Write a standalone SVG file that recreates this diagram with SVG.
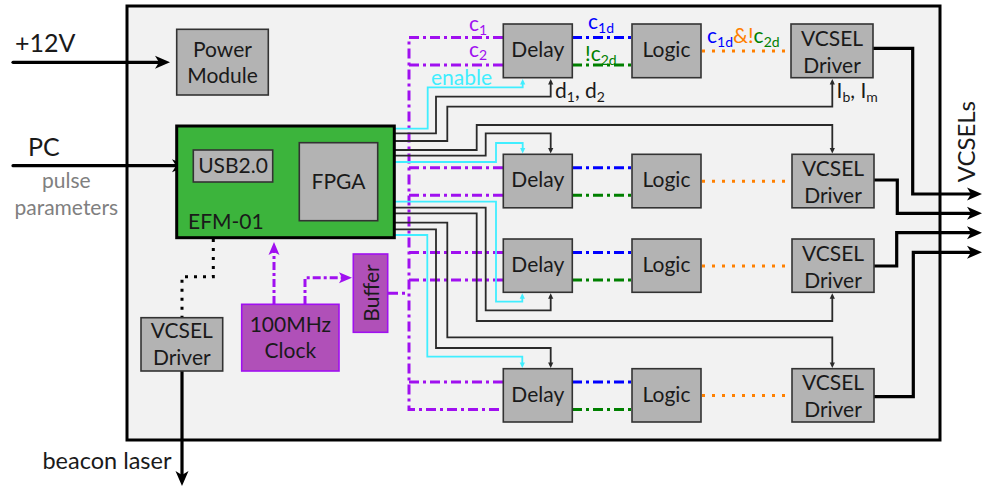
<svg xmlns="http://www.w3.org/2000/svg" width="985" height="486" viewBox="0 0 985 486">
<style>
text{font-family:"Lato","Liberation Sans",sans-serif;font-size:21px;fill:#1a1a1a}
.box{fill:#b3b3b3;stroke:#333;stroke-width:1.6}
.pbox{fill:#b050b8;stroke:#a010f0;stroke-width:1.6}
.c{text-anchor:middle}
.w{fill:none;stroke:#2a2a2a;stroke-width:1.8}
.cy{fill:none;stroke:#40eeff;stroke-width:1.8}
.pu{fill:none;stroke:#a010f0;stroke-width:3;stroke-dasharray:10 4 3 4}
.bl{fill:none;stroke:#0000ff;stroke-width:3;stroke-dasharray:10 4 3 4}
.gr{fill:none;stroke:#008000;stroke-width:3;stroke-dasharray:10 4 3 4}
.or{fill:none;stroke:#ff8000;stroke-width:3;stroke-dasharray:3 7}
.thick{fill:none;stroke:#000;stroke-width:3.2}
.sub{font-size:14px}
</style>
<defs>
<marker id="big" markerUnits="userSpaceOnUse" orient="auto" overflow="visible" markerWidth="1" markerHeight="1">
<path d="M7,0 L-8,-6.5 L-4,0 L-8,6.5 Z" fill="#000"/>
</marker>
<marker id="sm" markerUnits="userSpaceOnUse" orient="auto" overflow="visible" markerWidth="1" markerHeight="1">
<path d="M2.5,0 L-3,-2.6 L-3,2.6 Z" fill="#2a2a2a"/>
</marker>
<marker id="smc" markerUnits="userSpaceOnUse" orient="auto" overflow="visible" markerWidth="1" markerHeight="1">
<path d="M2.5,0 L-3,-2.6 L-3,2.6 Z" fill="#40eeff"/>
</marker>
<marker id="pa" markerUnits="userSpaceOnUse" orient="auto" overflow="visible" markerWidth="1" markerHeight="1">
<path d="M6,0 L-7,-5.5 L-4,0 L-7,5.5 Z" fill="#a010f0"/>
</marker>
</defs>

<rect id="enclosure" x="127" y="6" width="813" height="434" fill="#f2f2f2" stroke="#000" stroke-width="3"/>

<g id="connectors">
<path class="thick" d="M13,62.3 H163" stroke-width="4.5" stroke-linecap="round" marker-end="url(#big)"/>
<path class="thick" d="M13,165.7 H180" stroke-width="4.5" stroke-linecap="round" marker-end="url(#big)"/>
<path class="thick" d="M182,371 V479" stroke-width="2.6" marker-end="url(#big)"/>
<path d="M213.3,239 V276.7 H182 V317" fill="none" stroke="#000" stroke-width="3" stroke-dasharray="3 6"/>
<path d="M274,304 V248" fill="none" stroke="#a010f0" stroke-width="3" stroke-dasharray="8 3 3 3" marker-end="url(#pa)"/>
<path d="M305,304 V277.7 H346" fill="none" stroke="#a010f0" stroke-width="3" stroke-dasharray="8 3 3 3" marker-end="url(#pa)"/>
<path class="pu" d="M388,293.3 H409"/>
<path class="pu" d="M503,37.5 H409 V409.5 H503"/>
<path class="pu" d="M409,65 H503"/>
<path class="pu" d="M409,167.8 H503"/>
<path class="pu" d="M409,195.3 H503"/>
<path class="pu" d="M409,252.5 H503"/>
<path class="pu" d="M409,280 H503"/>
<path class="pu" d="M409,382 H503"/>
<path class="bl" d="M572,37.5 H632"/>
<path class="gr" d="M572,65 H632"/>
<path class="bl" d="M572,167.8 H632"/>
<path class="gr" d="M572,195.3 H632"/>
<path class="bl" d="M572,252.5 H632"/>
<path class="gr" d="M572,280 H632"/>
<path class="bl" d="M572,382 H632"/>
<path class="gr" d="M572,409.5 H632"/>
<path class="or" d="M702,51 H791"/>
<path class="or" d="M702,181.3 H791"/>
<path class="or" d="M702,266 H791"/>
<path class="or" d="M702,395.5 H791"/>
<path class="cy" d="M395,128.7 H427.7 V87.3 H522.7 V81.5" marker-end="url(#smc)"/>
<path class="w" d="M395,133.3 H436 V96.7 H550.7 V81.5" marker-end="url(#sm)"/>
<path class="w" d="M395,141 H447.3 V106.7 H832.3 V81.5" marker-end="url(#sm)"/>
<path class="w" d="M395,150 H476.7 V125 H832.3 V151" marker-end="url(#sm)"/>
<path class="w" d="M395,155.7 H485.7 V133.3 H550.7 V151" marker-end="url(#sm)"/>
<path class="cy" d="M395,162 H496 V143 H522.7 V151" marker-end="url(#smc)"/>
<path class="cy" d="M395,201.7 H496 V301.7 H522.3 V295.8" marker-end="url(#smc)"/>
<path class="w" d="M395,207.7 H485.7 V310.3 H550.7 V295.8" marker-end="url(#sm)"/>
<path class="w" d="M395,213.3 H476.7 V321 H832.3 V295.8" marker-end="url(#sm)"/>
<path class="w" d="M395,222.7 H447.3 V337.3 H832.3 V365.5" marker-end="url(#sm)"/>
<path class="w" d="M395,229.3 H436 V348 H550.7 V365.5" marker-end="url(#sm)"/>
<path class="cy" d="M395,235 H427.3 V356.7 H522.3 V365.5" marker-end="url(#smc)"/>
<path class="thick" d="M873,48.3 H912.7 V194 H975" marker-end="url(#big)"/>
<path class="thick" d="M874,180 H897.3 V213.3 H975" marker-end="url(#big)"/>
<path class="thick" d="M874,266 H896.7 V232.7 H975" marker-end="url(#big)"/>
<path class="thick" d="M874,396.7 H913.3 V252.3 H975" marker-end="url(#big)"/>
</g>

<g id="labels">
<text x="15" y="52" style="font-size:25px">+12V</text>
<text x="28" y="156" style="font-size:25px">PC</text>
<text x="66.3" y="188" class="c" style="fill:#808080">pulse</text>
<text x="66.3" y="215" class="c" style="fill:#808080">parameters</text>
<text x="171.5" y="469" text-anchor="end" style="font-size:23.5px">beacon laser</text>
<text x="469" y="31" style="fill:#a010f0">c<tspan class="sub" dy="4">1</tspan></text>
<text x="469" y="57" style="fill:#a010f0">c<tspan class="sub" dy="3">2</tspan></text>
<text x="431" y="85" style="fill:#40eeff">enable</text>
<text x="588" y="29" style="fill:#0000ff">c<tspan class="sub" dy="4">1d</tspan></text>
<text x="585" y="61" style="fill:#008000">!c<tspan class="sub" dy="4">2d</tspan></text>
<text x="555" y="98">d<tspan class="sub" dy="4">1</tspan><tspan dy="-4">, d</tspan><tspan class="sub" dy="4">2</tspan></text>
<text x="707" y="43"><tspan style="fill:#0000ff">c</tspan><tspan class="sub" dy="4" style="fill:#0000ff">1d</tspan><tspan dy="-4" style="fill:#ff8000">&amp;!</tspan><tspan style="fill:#008000">c</tspan><tspan class="sub" dy="4" style="fill:#008000">2d</tspan></text>
<text x="836.5" y="98">I<tspan class="sub" dy="4">b</tspan><tspan dy="-4">, I</tspan><tspan class="sub" dy="4">m</tspan></text>
<text transform="translate(975,141.7) rotate(-90)" class="c" style="font-size:24px">VCSELs</text>
</g>

<g id="power">
<rect class="box" x="176.7" y="29.3" width="91.6" height="65.7"/>
<text x="222.5" y="56.7" class="c">Power</text>
<text x="222.5" y="83.3" class="c">Module</text>
</g>
<g id="efm">
<rect x="176.7" y="126" width="217.6" height="111.7" fill="#3cb43c" stroke="#000" stroke-width="3"/>
<text x="188" y="229.3">EFM-01</text>
</g>
<g id="usb">
<rect class="box" x="193.3" y="150" width="79.4" height="32"/>
<text x="233" y="172.7" class="c">USB2.0</text>
</g>
<g id="fpga">
<rect class="box" x="299.3" y="142.7" width="78.4" height="78"/>
<text x="338.5" y="189.3" class="c">FPGA</text>
</g>
<g id="beacon-driver">
<rect class="box" x="141" y="317.7" width="81.7" height="53.3"/>
<text x="181.8" y="338.3" class="c">VCSEL</text>
<text x="181.8" y="365" class="c">Driver</text>
</g>
<g id="clock">
<rect class="pbox" x="241.7" y="304.3" width="97.3" height="66.7"/>
<text x="290.3" y="331.7" class="c">100MHz</text>
<text x="290.3" y="358.3" class="c">Clock</text>
</g>
<g id="buffer">
<rect class="pbox" x="353.3" y="254" width="34.4" height="78.3"/>
<text transform="translate(378.5,293) rotate(-90)" class="c">Buffer</text>
</g>

<g id="delay1"><rect class="box" x="503.3" y="24" width="69" height="53.7"/><text x="537.8" y="57" class="c">Delay</text></g>
<g id="delay2"><rect class="box" x="503.3" y="154.3" width="69" height="53.5"/><text x="537.8" y="187.3" class="c">Delay</text></g>
<g id="delay3"><rect class="box" x="503.3" y="239" width="69" height="53.3"/><text x="537.8" y="272" class="c">Delay</text></g>
<g id="delay4"><rect class="box" x="503.3" y="368.7" width="69" height="53.3"/><text x="537.8" y="401.7" class="c">Delay</text></g>

<g id="logic1"><rect class="box" x="632" y="24" width="69" height="53.7"/><text x="666.5" y="57" class="c">Logic</text></g>
<g id="logic2"><rect class="box" x="632" y="154.3" width="69" height="53.5"/><text x="666.5" y="187.3" class="c">Logic</text></g>
<g id="logic3"><rect class="box" x="632" y="239" width="69" height="53.3"/><text x="666.5" y="272" class="c">Logic</text></g>
<g id="logic4"><rect class="box" x="632" y="368.7" width="69" height="53.3"/><text x="666.5" y="401.7" class="c">Logic</text></g>

<g id="driver1"><rect class="box" x="791" y="24" width="82" height="53.7"/><text x="832" y="45.5" class="c">VCSEL</text><text x="832" y="72.5" class="c">Driver</text></g>
<g id="driver2"><rect class="box" x="792" y="154.3" width="82" height="53.5"/><text x="833" y="175.8" class="c">VCSEL</text><text x="833" y="202.8" class="c">Driver</text></g>
<g id="driver3"><rect class="box" x="792" y="239" width="82" height="53.3"/><text x="833" y="260.5" class="c">VCSEL</text><text x="833" y="287.5" class="c">Driver</text></g>
<g id="driver4"><rect class="box" x="792" y="368.7" width="82" height="53.3"/><text x="833" y="390.2" class="c">VCSEL</text><text x="833" y="417.2" class="c">Driver</text></g>
</svg>
